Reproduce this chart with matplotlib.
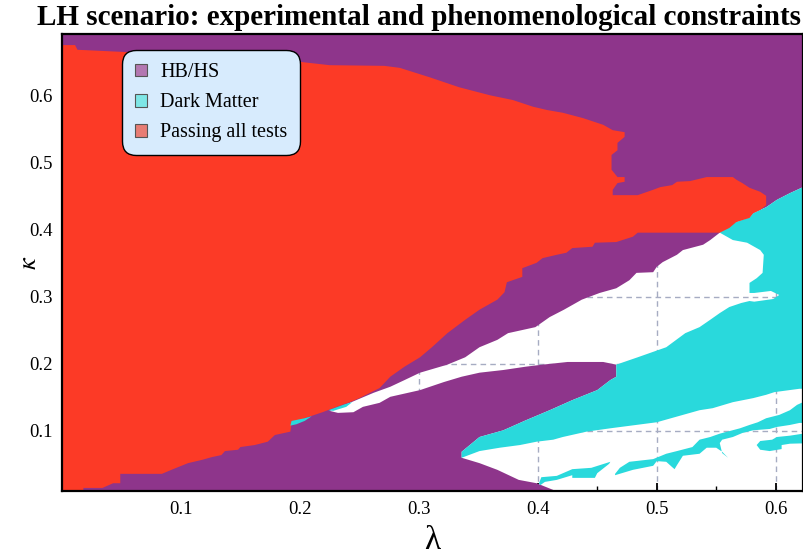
import numpy as np
import matplotlib.pyplot as plt
from matplotlib.path import Path
from matplotlib.patches import PathPatch, Polygon, Patch

plt.rcParams['font.family'] = ['Liberation Serif', 'DejaVu Serif']
plt.rcParams['mathtext.fontset'] = 'stix'

# axis ranges and ticks
lam_lim = (0.0, 0.623)
kap_lim = (0.0104, 0.6925)
lam_ticks = [0.1, 0.2, 0.3, 0.4, 0.5, 0.6]
kap_ticks = [0.1, 0.2, 0.3, 0.4, 0.5, 0.6]

labels = ["HB/HS", "Dark Matter", "Passing all tests"]

# region boundaries, as (lambda, kappa)
red_region = [
    (-0.01, 0.676), (0.011, 0.676), (0.013, 0.669), (0.049, 0.666), (0.200, 0.651),
    (0.225, 0.646), (0.271, 0.645), (0.284, 0.642), (0.309, 0.628), (0.334, 0.613),
    (0.360, 0.601), (0.379, 0.594), (0.396, 0.584), (0.408, 0.579), (0.421, 0.575),
    (0.438, 0.567), (0.455, 0.557), (0.463, 0.549), (0.473, 0.546), (0.473, 0.539),
    (0.467, 0.530), (0.467, 0.519), (0.462, 0.512), (0.462, 0.490), (0.467, 0.479),
    (0.473, 0.479), (0.473, 0.472), (0.467, 0.470), (0.463, 0.460), (0.463, 0.452),
    (0.484, 0.452), (0.497, 0.460), (0.503, 0.464), (0.513, 0.467), (0.517, 0.472),
    (0.528, 0.473), (0.542, 0.479), (0.564, 0.479), (0.567, 0.475), (0.572, 0.470),
    (0.578, 0.463), (0.587, 0.457), (0.592, 0.451), (0.592, 0.437), (0.587, 0.430),
    (0.581, 0.425), (0.578, 0.418), (0.567, 0.412), (0.561, 0.403), (0.553, 0.396),
    (0.484, 0.396), (0.480, 0.390), (0.466, 0.382), (0.448, 0.381), (0.446, 0.375),
    (0.429, 0.373), (0.424, 0.366), (0.416, 0.363), (0.404, 0.358), (0.399, 0.351),
    (0.387, 0.343), (0.387, 0.330), (0.374, 0.322), (0.372, 0.307), (0.366, 0.296),
    (0.351, 0.281), (0.339, 0.266), (0.324, 0.246), (0.311, 0.225), (0.301, 0.210),
    (0.288, 0.196), (0.276, 0.181), (0.267, 0.164), (0.259, 0.157), (0.250, 0.149),
    (0.242, 0.143), (0.231, 0.136), (0.219, 0.128), (0.204, 0.119), (0.193, 0.112),
    (0.192, 0.099), (0.179, 0.094), (0.173, 0.084), (0.162, 0.079), (0.150, 0.076),
    (0.148, 0.072), (0.137, 0.070), (0.134, 0.064), (0.126, 0.061), (0.118, 0.057),
    (0.106, 0.052), (0.092, 0.042), (0.084, 0.036), (0.049, 0.036), (0.049, 0.022),
    (0.043, 0.022), (0.034, 0.015), (0.018, 0.015), (0.018, 0.000), (-0.01, 0.000),
]

# everything that is not HB/HS purple (white gaps + dark matter area)
non_purple = [
    (0.225, 0.130), (0.231, 0.134), (0.242, 0.142), (0.250, 0.148), (0.262, 0.157),
    (0.276, 0.166), (0.288, 0.176), (0.301, 0.187), (0.324, 0.199), (0.339, 0.210),
    (0.351, 0.225), (0.366, 0.236), (0.375, 0.246), (0.398, 0.255), (0.410, 0.270),
    (0.422, 0.281), (0.437, 0.296), (0.452, 0.306), (0.466, 0.313), (0.477, 0.325),
    (0.483, 0.336), (0.497, 0.337), (0.500, 0.345), (0.505, 0.352), (0.517, 0.363),
    (0.522, 0.370), (0.539, 0.378), (0.545, 0.385), (0.553, 0.396),
    (0.564, 0.410), (0.578, 0.419), (0.581, 0.425), (0.592, 0.434), (0.601, 0.445),
    (0.612, 0.455), (0.623, 0.464), (0.633, 0.475), (0.633, -0.003), (0.415, -0.003),
    (0.413, 0.010), (0.413, 0.012), (0.399, 0.022), (0.384, 0.027), (0.366, 0.042),
    (0.351, 0.052), (0.336, 0.060),
    (0.336, 0.069), (0.351, 0.091), (0.371, 0.101), (0.390, 0.116), (0.410, 0.131),
    (0.429, 0.146), (0.450, 0.161), (0.461, 0.176), (0.466, 0.181), (0.466, 0.199),
    (0.455, 0.203), (0.425, 0.203), (0.404, 0.199), (0.390, 0.196), (0.371, 0.191),
    (0.351, 0.187), (0.336, 0.181), (0.321, 0.173), (0.301, 0.161), (0.276, 0.151),
    (0.267, 0.142), (0.253, 0.136), (0.245, 0.128), (0.232, 0.127),
]

dm_main = [
    (0.553, 0.396), (0.564, 0.410), (0.578, 0.419), (0.581, 0.425), (0.592, 0.434),
    (0.601, 0.445), (0.612, 0.455), (0.623, 0.464), (0.633, 0.475), (0.633, 0.163),
    (0.620, 0.163), (0.599, 0.158), (0.592, 0.154), (0.581, 0.149), (0.564, 0.143),
    (0.547, 0.134), (0.536, 0.131), (0.500, 0.113), (0.461, 0.104), (0.441, 0.099),
    (0.421, 0.091), (0.413, 0.087), (0.399, 0.084), (0.385, 0.079), (0.368, 0.075),
    (0.351, 0.070), (0.336, 0.060), (0.336, 0.069), (0.351, 0.091), (0.371, 0.101),
    (0.390, 0.116), (0.410, 0.131), (0.429, 0.146), (0.450, 0.161), (0.461, 0.176),
    (0.466, 0.181), (0.466, 0.199), (0.484, 0.210), (0.508, 0.225), (0.524, 0.246),
    (0.536, 0.255), (0.545, 0.266), (0.553, 0.276), (0.561, 0.285), (0.571, 0.291),
    (0.578, 0.294), (0.582, 0.293), (0.598, 0.297), (0.603, 0.303), (0.596, 0.309),
    (0.582, 0.306), (0.578, 0.306), (0.578, 0.321), (0.584, 0.328), (0.589, 0.336),
    (0.590, 0.363), (0.587, 0.370), (0.576, 0.381), (0.564, 0.385),
]

dm_strip1 = [
    (0.401, 0.022), (0.403, 0.031), (0.416, 0.033), (0.429, 0.043), (0.445, 0.045),
    (0.461, 0.054), (0.460, 0.051), (0.450, 0.037), (0.448, 0.030), (0.429, 0.030),
    (0.429, 0.034), (0.416, 0.027), (0.406, 0.024), (0.402, 0.019),
]

dm_strip2 = [
    (0.465, 0.036), (0.469, 0.045), (0.477, 0.054), (0.497, 0.058), (0.508, 0.066),
    (0.517, 0.070), (0.530, 0.076), (0.536, 0.087), (0.545, 0.091), (0.553, 0.096),
    (0.570, 0.104), (0.578, 0.109), (0.585, 0.113), (0.592, 0.119), (0.603, 0.124),
    (0.612, 0.131), (0.618, 0.139), (0.623, 0.143), (0.633, 0.146), (0.633, 0.112),
    (0.620, 0.112), (0.612, 0.109), (0.601, 0.106), (0.595, 0.103), (0.581, 0.101),
    (0.572, 0.097), (0.564, 0.091), (0.555, 0.087), (0.553, 0.082), (0.555, 0.067),
    (0.560, 0.060), (0.555, 0.069), (0.550, 0.075), (0.542, 0.075), (0.536, 0.066),
    (0.522, 0.063), (0.517, 0.049), (0.515, 0.043), (0.513, 0.046), (0.508, 0.054),
    (0.500, 0.055), (0.497, 0.048), (0.480, 0.042), (0.465, 0.034),
]

dm_strip3 = [
    (0.584, 0.079), (0.587, 0.085), (0.597, 0.087), (0.601, 0.091), (0.612, 0.093),
    (0.623, 0.096), (0.633, 0.096), (0.633, 0.082), (0.612, 0.081), (0.605, 0.079),
    (0.605, 0.073), (0.595, 0.070), (0.587, 0.072),
]

dm_bit_a = [(0.192, 0.108), (0.193, 0.115), (0.204, 0.119), (0.210, 0.122),
            (0.204, 0.115), (0.197, 0.110)]
dm_bit_b = [(0.224, 0.131), (0.238, 0.140), (0.244, 0.143), (0.239, 0.136),
            (0.228, 0.130)]

purple = '#8e358b'
red = '#fc3a26'
cyan = '#29d9dc'


def oriented(pts, ccw=True):
    pts = np.asarray(pts, dtype=float)
    x, y = pts[:, 0], pts[:, 1]
    area = 0.5 * np.sum(x * np.roll(y, -1) - np.roll(x, -1) * y)
    if (area > 0) != ccw:
        pts = pts[::-1]
    return pts


def ring(pts):
    verts = np.vstack([pts, pts[:1]])
    codes = [Path.MOVETO] + [Path.LINETO] * (len(pts) - 1) + [Path.CLOSEPOLY]
    return verts, codes


fig = plt.figure(figsize=(8.04, 5.56), dpi=100)
ax = fig.add_axes([0.0771, 0.1169, 0.9217, 0.8219])
ax.set_xlim(*lam_lim)
ax.set_ylim(*kap_lim)

# dashed mesh under the regions
ax.set_axisbelow(True)
ax.grid(True, which='major', linestyle=(0, (4, 3)), color='#a6acc2', linewidth=1.0)

# HB/HS: the whole frame minus the non-purple hole
outer = oriented([(-0.05, -0.05), (0.7, -0.05), (0.7, 0.75), (-0.05, 0.75)], ccw=True)
hole = oriented(non_purple, ccw=False)
v1, c1 = ring(outer)
v2, c2 = ring(hole)
ax.add_patch(PathPatch(Path(np.vstack([v1, v2]), c1 + c2),
                       facecolor=purple, edgecolor='none', zorder=1))

for poly in [dm_main, dm_strip1, dm_strip2, dm_strip3]:
    ax.add_patch(Polygon(poly, closed=True, facecolor=cyan, edgecolor='none', zorder=2))

ax.add_patch(Polygon(red_region, closed=True, facecolor=red, edgecolor='none', zorder=3))

for poly in [dm_bit_a, dm_bit_b]:
    ax.add_patch(Polygon(poly, closed=True, facecolor=cyan, edgecolor='none', zorder=4))

# ticks and frame
ax.set_xticks(lam_ticks)
ax.set_yticks(kap_ticks)
ax.set_xticks(np.arange(0.05, 0.62, 0.1), minor=True)
ax.set_yticks(np.arange(0.05, 0.69, 0.1), minor=True)
ax.set_xticklabels([f"{t:g}" for t in lam_ticks])
ax.set_yticklabels([f"{t:g}" for t in kap_ticks])
ax.tick_params(which='major', direction='in', length=6, width=1.3, labelsize=13.5,
               top=False, right=False, pad=7, zorder=10)
ax.tick_params(which='minor', direction='in', length=3.5, width=1.0, top=False, right=False)
for s in ax.spines.values():
    s.set_linewidth(1.6)
    s.set_zorder(10)

ax.set_xlabel("λ", fontsize=24)
ax.xaxis.set_label_coords(0.5, -0.075)
ax.set_ylabel(r"$\kappa$", fontsize=19)
ax.yaxis.set_label_coords(-0.028, 0.5)

fig.text(0.521, 0.969, "LH scenario: experimental and phenomenological constraints",
         ha='center', va='center', fontsize=21, fontweight='bold')

handles = [
    Patch(facecolor='#b377b1', edgecolor='#555555', linewidth=0.8),
    Patch(facecolor='#7ee6e6', edgecolor='#555555', linewidth=0.8),
    Patch(facecolor='#e77c74', edgecolor='#555555', linewidth=0.8),
]
leg = ax.legend(handles, labels, loc='upper left', bbox_to_anchor=(0.086, 0.956),
                borderaxespad=0, fontsize=14.5, handlelength=0.6, handleheight=0.6,
                handletextpad=0.65, labelspacing=0.55, borderpad=0.45, fancybox=True,
                framealpha=1, facecolor='#d7ebfd', edgecolor='black')
leg.get_frame().set_linewidth(1.0)
leg.get_frame().set_boxstyle('round,pad=0.2,rounding_size=0.7')
leg.set_zorder(20)

fig.savefig("out.png", dpi=100)
